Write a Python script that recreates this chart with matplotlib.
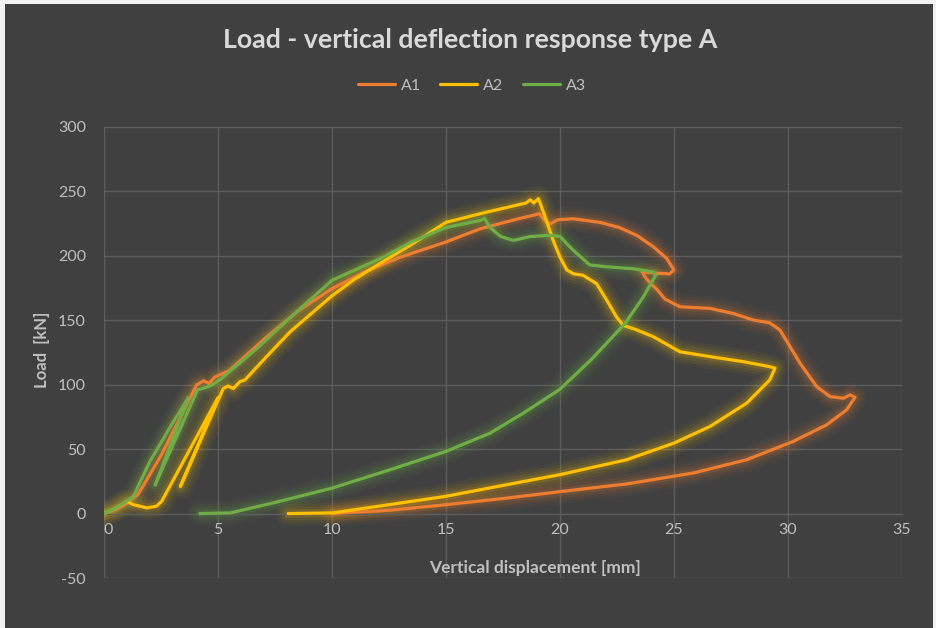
import matplotlib
matplotlib.use("Agg")
import matplotlib.pyplot as plt
from matplotlib.patches import Rectangle

# ---- data ----
a1_x = [0, 0.5, 1.0, 1.5, 2.5, 3.5, 4.06, 4.36, 4.6, 4.87, 5.5, 7.13, 8.5, 10, 11.5, 13, 15,
        16.5, 18, 19.1, 19.4, 19.6, 19.9, 20.58, 21.75, 22.6, 23.36, 24.1, 24.68, 25.0, 24.8,
        24.3, 23.6, 23.8, 24.3, 24.6, 25.26, 26.58, 27.6, 28.48, 29.2, 29.65, 30.53, 31.26,
        31.84, 32.43, 32.72, 32.94, 32.57, 31.7, 30.23, 28.19, 25.85, 22.93, 20, 17.66,
        15, 12.54, 10]
a1_y = [0, 3, 8, 15, 45, 80, 99.8, 103, 101, 106, 111, 137, 157, 174.6, 188, 199, 210.8,
        221, 228, 232.7, 226, 225, 228, 228.8, 226, 222, 216, 207, 198, 189, 186,
        186.5, 187.5, 182, 173, 166.5, 160.5, 159.2, 155.3, 150.2, 148, 142.4, 116.6, 98.5,
        90.8, 89.5, 92.1, 90.3, 80.5, 68.9, 56, 41.8, 31.5, 23, 17, 12,
        6.9, 2.6, 0]

a2_x = [0, 0.5, 1.0, 1.28, 1.87, 2.3, 2.53, 5.0, 3.35, 5.23, 5.45, 5.67, 5.96, 6.18, 7.13,
        8.16, 10, 11, 12.25, 13.5, 15, 16.5, 16.8, 18.5, 18.7, 18.85, 19.05, 19.15, 19.4,
        19.7, 20.0, 20.3, 20.6, 21.0, 21.6, 22.05, 22.5, 22.78, 23.3, 24.1, 25.26, 26.58,
        28.04, 29.2, 29.43, 29.2, 28.19, 26.58, 25, 22.93, 20, 17.66, 15, 12.54, 10.03, 8.08]
a2_y = [0, 4, 9.5, 7, 4.4, 5.7, 9.5, 90, 21, 97, 99, 97, 102.4, 103.7, 121.8,
        141, 169, 182, 195.6, 209, 226, 232.7, 234, 241, 243.5, 241, 244.5, 240, 227.5,
        212, 199, 189, 186, 185, 178.5, 165.6, 152, 146, 143, 137.2, 125.6, 121.8,
        117.9, 114, 112.8, 103.7, 85.7, 67.6, 54.7, 41.8, 30.2, 22.4, 13.4, 7, 0.5, 0]

a3_x = [0, 0.5, 1.28, 2.0, 3.0, 3.7, 2.24, 4.1, 4.36, 4.65, 5.09, 6.7, 8.16, 10, 12.25,
        13.5, 15, 16.5, 16.7, 16.9, 17.4, 17.95, 18.7, 19.56, 20, 20.6, 21.3, 22.05, 23.2,
        24.1, 24.2, 23.65, 22.85, 21.4, 20, 18.39, 16.93, 14.99,
        12.54, 10.03, 7.43, 5.53, 4.21]
a3_y = [0, 4, 13, 40, 70, 90, 22, 96, 97.3, 99, 104, 128, 152, 181, 199,
        211, 222, 227.5, 229, 222.5, 215, 212, 215, 216, 215, 204, 193, 191.5, 190,
        187.5, 185, 168, 147.5, 120, 96.5, 77.9, 62.4, 48.2,
        34, 19.9, 8.3, 0.5, 0]

series_names = ["A1", "A2", "A3"]
colors = ["#ED7D31", "#FFC000", "#70AD47"]
x_ticks = [0, 5, 10, 15, 20, 25, 30, 35]
y_ticks = [-50, 0, 50, 100, 150, 200, 250, 300]

BG = "#404040"
GRID = "#5c5c5c"
TXT = "#bfbfbf"
FONT = ["Lato", "DejaVu Sans"]
plt.rcParams["font.family"] = FONT
plt.rcParams["axes.unicode_minus"] = False

fig = plt.figure(figsize=(9.36, 6.28), dpi=100)
fig.patch.set_facecolor("#f2f2f2")
fig.patches.append(Rectangle((5 / 936, 0), (933 - 5) / 936, (628 - 4) / 628,
                             transform=fig.transFigure, facecolor=BG, edgecolor="none",
                             zorder=-10))

ax = fig.add_axes([104 / 936, 1 - 578 / 628, (902 - 104) / 936, (578 - 127) / 628])
ax.set_zorder(1)
ax.set_facecolor(BG)
ax.set_xlim(0, 35)
ax.set_ylim(-50, 300)
ax.set_xticks(x_ticks)
ax.set_yticks(y_ticks)
ax.grid(True, color=GRID, linewidth=1.0)
ax.set_axisbelow(True)
for s in ["top", "right", "left"]:
    ax.spines[s].set_visible(False)
ax.spines["bottom"].set_position(("data", 0))
ax.spines["bottom"].set_color(GRID)
ax.tick_params(axis="both", length=0, colors=TXT, labelsize=11.5)
ax.tick_params(axis="x", pad=7)
ax.tick_params(axis="y", pad=13)
for lab in ax.get_xticklabels():
    lab.set_horizontalalignment("left" if lab.get_text() == "0" else "center")

data = [(a1_x, a1_y), (a2_x, a2_y), (a3_x, a3_y)]
lines = []
for (xs, ys), c, n in zip(data, colors, series_names):
    for lw, al in [(18, 0.04), (14, 0.06), (10, 0.08), (6, 0.14)]:
        ax.plot(xs, ys, color=c, lw=lw, alpha=al, solid_capstyle="round",
                solid_joinstyle="round", zorder=2)
for (xs, ys), c, n in zip(data, colors, series_names):
    ln, = ax.plot(xs, ys, color=c, lw=2.3, solid_joinstyle="round",
                  solid_capstyle="round", zorder=3, label=n)
    lines.append(ln)

fig.text(470 / 936, 1 - 40 / 628, "Load - vertical deflection response type A",
         ha="center", va="center", fontsize=19.3, fontweight="bold", color="#d9d9d9")
fig.legend(handles=lines, labels=series_names, loc="center", ncol=3,
           bbox_to_anchor=(472 / 936, 1 - 86 / 628), frameon=False,
           fontsize=11.5, labelcolor=TXT, handlelength=2.3, columnspacing=1.2,
           handletextpad=0.4)

fig.text(42 / 936, 1 - 350 / 628, "Load  [kN]", rotation=90, ha="center", va="center",
         fontsize=12, fontweight="bold", color=TXT)
fig.text(535 / 936, 1 - 568 / 628, "Vertical displacement [mm]", ha="center", va="center",
         fontsize=12.5, fontweight="bold", color=TXT)

fig.savefig("out.png", dpi=100, facecolor=fig.get_facecolor())
